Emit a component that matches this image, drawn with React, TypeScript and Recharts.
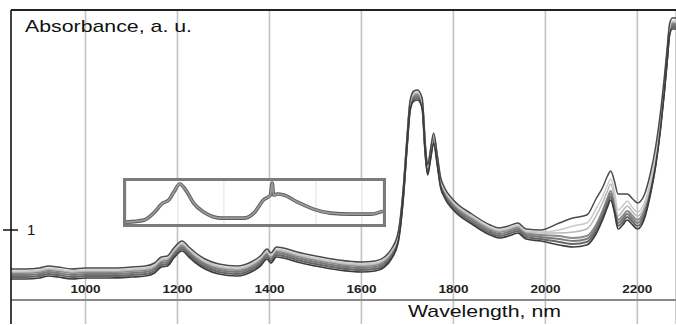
import { LineChart, Line, XAxis, YAxis, CartesianGrid, ReferenceLine } from 'recharts';

// wavelength grid, nm
const WAVELENGTH = [
  838, 870, 900, 920, 940, 970, 1000, 1050, 1100, 1130, 1150, 1165, 1178, 1192, 1210, 1225, 1240, 1260, 1290, 1330,
  1360, 1380, 1395, 1403, 1415, 1430, 1460, 1500, 1550, 1600, 1630, 1650, 1665, 1680, 1691, 1699, 1706, 1714, 1722, 1732,
  1739, 1744, 1750, 1757, 1765, 1772, 1780, 1800, 1840, 1880, 1900, 1920, 1940, 1958, 1990, 2030, 2060, 2090, 2110, 2125,
  2135, 2142, 2150, 2158, 2168, 2178, 2190, 2200, 2215, 2228, 2240, 2250, 2258, 2265, 2270, 2276, 2284,
];

// absorbance of each sample spectrum, a. u.
const SAMPLE_A = [
  0.61, 0.61, 0.62, 0.64, 0.63, 0.61, 0.62, 0.62, 0.63, 0.64, 0.67, 0.73, 0.74, 0.82, 0.89, 0.83, 0.77, 0.71, 0.66, 0.64,
  0.68, 0.74, 0.81, 0.77, 0.83, 0.82, 0.78, 0.74, 0.70, 0.68, 0.69, 0.73, 0.81, 0.98, 1.42, 1.92, 2.30, 2.39, 2.40, 2.32,
  1.85, 1.65, 1.80, 1.97, 1.75, 1.53, 1.43, 1.30, 1.16, 1.05, 1.02, 1.04, 1.07, 1.01, 1.00, 1.07, 1.12, 1.15, 1.31, 1.43,
  1.54, 1.59, 1.49, 1.36, 1.36, 1.36, 1.31, 1.27, 1.35, 1.56, 1.84, 2.17, 2.50, 2.83, 3.06, 3.12, 3.12,
];
const SAMPLE_B = [
  0.59, 0.59, 0.60, 0.62, 0.61, 0.59, 0.60, 0.60, 0.61, 0.62, 0.65, 0.71, 0.72, 0.80, 0.87, 0.81, 0.75, 0.69, 0.64, 0.62,
  0.66, 0.72, 0.79, 0.75, 0.81, 0.80, 0.76, 0.72, 0.68, 0.66, 0.67, 0.71, 0.79, 0.96, 1.40, 1.90, 2.28, 2.37, 2.38, 2.30,
  1.83, 1.63, 1.78, 1.95, 1.73, 1.51, 1.41, 1.28, 1.14, 1.03, 1.00, 1.02, 1.05, 0.99, 0.98, 1.00, 1.04, 1.07, 1.21, 1.34,
  1.45, 1.51, 1.39, 1.20, 1.24, 1.29, 1.22, 1.18, 1.27, 1.48, 1.77, 2.11, 2.45, 2.79, 3.03, 3.09, 3.09,
];
const SAMPLE_C = [
  0.58, 0.58, 0.59, 0.61, 0.60, 0.58, 0.59, 0.59, 0.60, 0.61, 0.64, 0.70, 0.71, 0.79, 0.86, 0.80, 0.74, 0.68, 0.63, 0.61,
  0.65, 0.71, 0.78, 0.74, 0.80, 0.79, 0.75, 0.71, 0.67, 0.65, 0.66, 0.70, 0.78, 0.95, 1.39, 1.89, 2.27, 2.36, 2.37, 2.29,
  1.82, 1.62, 1.77, 1.94, 1.72, 1.50, 1.40, 1.27, 1.13, 1.02, 0.99, 1.01, 1.04, 0.98, 0.97, 0.97, 0.98, 1.01, 1.14, 1.28,
  1.39, 1.46, 1.33, 1.14, 1.19, 1.24, 1.18, 1.14, 1.23, 1.45, 1.74, 2.09, 2.43, 2.78, 3.02, 3.08, 3.08,
];
const SAMPLE_D = [
  0.57, 0.57, 0.58, 0.60, 0.59, 0.57, 0.58, 0.58, 0.59, 0.60, 0.63, 0.69, 0.70, 0.78, 0.85, 0.79, 0.73, 0.67, 0.62, 0.60,
  0.64, 0.70, 0.77, 0.73, 0.79, 0.78, 0.74, 0.70, 0.66, 0.64, 0.65, 0.69, 0.77, 0.94, 1.38, 1.88, 2.26, 2.35, 2.36, 2.28,
  1.81, 1.61, 1.76, 1.93, 1.71, 1.49, 1.39, 1.26, 1.12, 1.01, 0.98, 1.00, 1.03, 0.97, 0.95, 0.94, 0.92, 0.94, 1.05, 1.20,
  1.32, 1.39, 1.27, 1.10, 1.14, 1.19, 1.14, 1.10, 1.20, 1.41, 1.71, 2.06, 2.41, 2.76, 3.01, 3.07, 3.07,
];
const SAMPLE_E = [
  0.55, 0.55, 0.56, 0.58, 0.57, 0.55, 0.56, 0.56, 0.57, 0.58, 0.61, 0.67, 0.68, 0.76, 0.83, 0.77, 0.71, 0.65, 0.60, 0.58,
  0.62, 0.68, 0.75, 0.71, 0.77, 0.76, 0.72, 0.68, 0.64, 0.62, 0.63, 0.67, 0.75, 0.92, 1.36, 1.86, 2.24, 2.33, 2.34, 2.26,
  1.79, 1.59, 1.74, 1.91, 1.69, 1.47, 1.37, 1.24, 1.10, 0.99, 0.96, 0.98, 1.01, 0.95, 0.93, 0.91, 0.89, 0.91, 1.02, 1.17,
  1.29, 1.36, 1.24, 1.07, 1.11, 1.16, 1.11, 1.07, 1.17, 1.39, 1.69, 2.04, 2.39, 2.74, 2.99, 3.05, 3.05,
];
const SAMPLE_F = [
  0.53, 0.53, 0.54, 0.56, 0.55, 0.53, 0.54, 0.54, 0.55, 0.56, 0.59, 0.65, 0.66, 0.74, 0.81, 0.75, 0.69, 0.63, 0.58, 0.56,
  0.60, 0.66, 0.73, 0.69, 0.75, 0.74, 0.70, 0.66, 0.62, 0.60, 0.61, 0.65, 0.73, 0.90, 1.34, 1.84, 2.22, 2.31, 2.32, 2.24,
  1.77, 1.57, 1.72, 1.89, 1.67, 1.45, 1.35, 1.22, 1.08, 0.97, 0.94, 0.96, 0.99, 0.93, 0.91, 0.88, 0.86, 0.88, 0.99, 1.14,
  1.26, 1.33, 1.21, 1.04, 1.08, 1.13, 1.08, 1.04, 1.14, 1.37, 1.67, 2.02, 2.37, 2.72, 2.97, 3.03, 3.03,
];
const SAMPLE_G = [
  0.51, 0.51, 0.52, 0.54, 0.53, 0.51, 0.52, 0.52, 0.53, 0.54, 0.57, 0.63, 0.64, 0.72, 0.79, 0.73, 0.67, 0.61, 0.56, 0.54,
  0.58, 0.64, 0.71, 0.67, 0.73, 0.72, 0.68, 0.64, 0.60, 0.58, 0.59, 0.63, 0.71, 0.88, 1.32, 1.82, 2.20, 2.29, 2.30, 2.22,
  1.75, 1.55, 1.70, 1.87, 1.65, 1.43, 1.33, 1.20, 1.06, 0.95, 0.92, 0.94, 0.97, 0.91, 0.89, 0.85, 0.83, 0.85, 0.96, 1.11,
  1.23, 1.30, 1.18, 1.01, 1.05, 1.10, 1.05, 1.01, 1.11, 1.35, 1.65, 2.00, 2.35, 2.70, 2.95, 3.01, 3.01,
];

const X_TICKS = [1000, 1200, 1400, 1600, 1800, 2000, 2200];
const Y_TICKS = [1];

// zoomed inset, 1090-1650 nm
const INSET_WAVELENGTH = [
  1087, 1126, 1147, 1167, 1180, 1191, 1204, 1217, 1234, 1256, 1293, 1343, 1365, 1386, 1401, 1405, 1408, 1417, 1430, 1460,
  1495, 1532, 1576, 1619, 1646,
];
const INSET_ABS = [
  0.563, 0.577, 0.626, 0.696, 0.717, 0.773, 0.829, 0.787, 0.696, 0.633, 0.591, 0.591, 0.626, 0.717, 0.752, 0.836, 0.752,
  0.759, 0.752, 0.703, 0.654, 0.626, 0.619, 0.619, 0.640,
];
const INSET_TICKS = [1100, 1200, 1300, 1400, 1500, 1600];

const data = WAVELENGTH.map((w, i) => ({
  w,
  a: SAMPLE_A[i], b: SAMPLE_B[i], c: SAMPLE_C[i], d: SAMPLE_D[i],
  e: SAMPLE_E[i], f: SAMPLE_F[i], g: SAMPLE_G[i],
}));
const insetData = INSET_WAVELENGTH.map((w, i) => ({ w, v: INSET_ABS[i] }));

const SERIES = [
  { key: 'd', color: '#8a8a8a', width: 2 },
  { key: 'e', color: '#7a7a7a', width: 2 },
  { key: 'f', color: '#686868', width: 2 },
  { key: 'c', color: '#b8b8b8', width: 1.5 },
  { key: 'b', color: '#cacaca', width: 1.5 },
  { key: 'a', color: '#4a4a4a', width: 1.5 },
  { key: 'g', color: '#3c3c3c', width: 1.7 },
];

const FONT = '"Liberation Sans", Arial, sans-serif';
const AXIS_X = 11;

function XTick({ x, y, payload }: any) {
  // axis sits on the bottom edge; labels are drawn above it
  return (
    <text x={x} y={y - 31} textAnchor="middle" fontFamily={FONT} fontSize={11} fontWeight="bold"
      fill="#222" textLength={30} lengthAdjust="spacingAndGlyphs">
      {payload.value}
    </text>
  );
}

function YTick({ y, payload }: any) {
  return (
    <g>
      <line x1={AXIS_X - 8} x2={AXIS_X + 7} y1={y} y2={y} stroke="#111" strokeWidth={1.5} />
      <text x={AXIS_X + 16} y={y + 5} fontFamily={FONT} fontSize={15} fill="#111">{payload.value}</text>
    </g>
  );
}

export default function App() {
  return (
    <div style={{ position: 'absolute', left: 0, top: 0, width: 676, height: 325, background: '#fff', overflow: 'hidden' }}>
      <LineChart width={676} height={325} data={data} margin={{ top: 10, right: 0, bottom: 0, left: 0 }}>
        <CartesianGrid horizontal={false} stroke="#c2c2c2" strokeWidth={1.6} />
        <XAxis dataKey="w" type="number" domain={[838, 2284]} ticks={X_TICKS} allowDataOverflow
          height={1} axisLine={false} tickLine={false} tickSize={0} tickMargin={0} tick={<XTick />} />
        <YAxis type="number" domain={[0.06, 3.2]} ticks={Y_TICKS} allowDataOverflow width={AXIS_X}
          axisLine={{ stroke: '#111', strokeWidth: 1.5 }} tickLine={false} tick={<YTick />} />
        <ReferenceLine y={0.3} stroke="#8a8a8a" strokeWidth={2} />
        <ReferenceLine y={3.2} stroke="#222" strokeWidth={2} />
        {SERIES.map(s => (
          <Line key={s.key} type="monotone" dataKey={s.key} stroke={s.color} strokeWidth={s.width}
            dot={false} isAnimationActive={false} />
        ))}
      </LineChart>

      <div style={{
        position: 'absolute', left: 123, top: 178, width: 263, height: 49,
        border: '3px solid #7b7b7b', boxSizing: 'border-box', background: '#fff',
      }}>
        <LineChart width={257} height={43} data={insetData} margin={{ top: 0, right: 0, bottom: 0, left: 0 }}>
          <CartesianGrid horizontal={false} stroke="#e0e0e0" />
          <XAxis dataKey="w" type="number" domain={[1087, 1646]} ticks={INSET_TICKS} hide />
          <YAxis type="number" domain={[0.55, 0.85]} hide />
          <Line type="monotone" dataKey="v" stroke="#5c5c5c" strokeWidth={3.6} dot={false} isAnimationActive={false} />
          <Line type="monotone" dataKey="v" stroke="#9a9a9a" strokeWidth={1.8} dot={false} isAnimationActive={false} />
        </LineChart>
      </div>

      <svg width={676} height={325} style={{ position: 'absolute', left: 0, top: 0, pointerEvents: 'none' }}>
        <text x={25} y={32} fontFamily={FONT} fontSize={17} fill="#111" textLength={167} lengthAdjust="spacingAndGlyphs">
          Absorbance, a. u.
        </text>
        <text x={408} y={317} fontFamily={FONT} fontSize={17} fill="#111" textLength={153} lengthAdjust="spacingAndGlyphs">
          Wavelength, nm
        </text>
      </svg>
    </div>
  );
}
